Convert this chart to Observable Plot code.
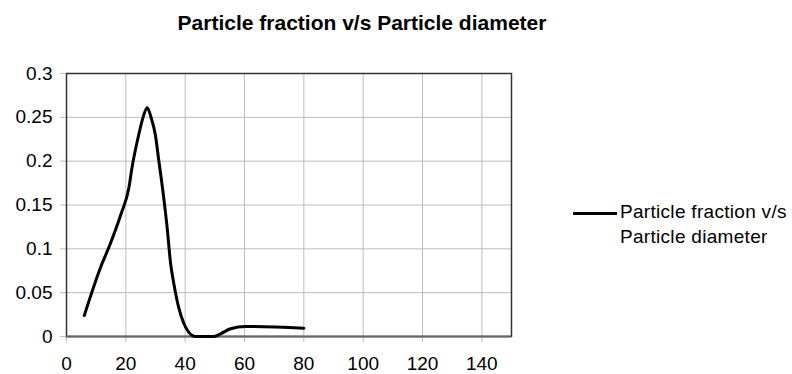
<!DOCTYPE html>
<html>
<head>
<meta charset="utf-8">
<script src="https://cdn.jsdelivr.net/npm/d3@7"></script>
<script src="https://cdn.jsdelivr.net/npm/@observablehq/plot@0.6"></script>
<style>
  html, body { margin: 0; padding: 0; background: #fff; }
  #wrap { position: relative; width: 792px; height: 374px; font-family: "Liberation Sans", Arial, sans-serif; }
  #title { position: absolute; left: 0; width: 724px; top: 11.5px; text-align: center; font-size: 21px; font-weight: bold; line-height: 1; color: #000; }
  #legend { position: absolute; left: 573px; top: 199px; }
  #legend .swatch { position: absolute; left: 0; top: 12.8px; width: 44px; height: 3px; background: #000; }
  #legend .label { position: absolute; left: 47px; top: 0; font-size: 19px; letter-spacing: 0.3px; line-height: 25px; white-space: nowrap; color: #000; }
</style>
</head>
<body>
<div id="wrap">
  <div id="chart"></div>
  <div id="title"></div>
  <div id="legend"><div class="swatch"></div><div class="label"></div></div>
</div>
<script>
const chartTitle = "Particle fraction v/s Particle diameter";
const seriesName = ["Particle fraction v/s", "Particle diameter"];
const diameter = [6, 11.5, 14.8, 18.4, 21, 22.1, 24.4, 25.8, 27.2, 28.5, 30, 31.1, 32.6, 33.9, 35.1, 36.2, 37.9, 39.6, 41.2, 43.5, 49.7, 51.9, 55.3, 60.3, 80];
const fraction = [0.024, 0.079, 0.106, 0.14, 0.169, 0.193, 0.231, 0.25, 0.261, 0.25, 0.229, 0.201, 0.163, 0.125, 0.083, 0.06, 0.032, 0.0145, 0.005, 0, 0, 0.003, 0.0088, 0.0114, 0.0095];
const xTicks = [0, 20, 40, 60, 80, 100, 120, 140];
const yTicks = [0, 0.05, 0.1, 0.15, 0.2, 0.25, 0.3];

const data = diameter.map((d, i) => ({d, f: fraction[i]}));

const chart = Plot.plot({
  width: 792,
  height: 374,
  marginLeft: 66,
  marginRight: 281,
  marginTop: 73,
  marginBottom: 38,
  style: {background: "#fff", color: "#000", fontFamily: "'Liberation Sans', Arial, sans-serif"},
  x: {domain: [0, 150]},
  y: {domain: [0, 0.3]},
  marks: [
    Plot.gridX(xTicks, {stroke: "#bdbdbd", strokeOpacity: 1, strokeWidth: 1}),
    Plot.gridY(yTicks, {stroke: "#bdbdbd", strokeOpacity: 1, strokeWidth: 1}),
    Plot.axisX(xTicks, {tickSize: 6, tickPadding: 14, stroke: "#bdbdbd", fill: "#000", label: null, tickFormat: d => String(d)}),
    Plot.axisY(yTicks, {tickSize: 6, tickPadding: 8, stroke: "#bdbdbd", fill: "#000", label: null, tickFormat: d => String(d)}),
    Plot.frame({stroke: "#333", strokeWidth: 1.5}),
    Plot.ruleY([0], {stroke: "#666", strokeWidth: 2}),
    Plot.line(data, {x: "d", y: "f", stroke: "#000", strokeWidth: 3, curve: "monotone-x"})
  ]
});
d3.select(chart).selectAll("text").each(function() {
  this.style.fontSize = "19px";
  this.style.fontFamily = "'Liberation Sans', Arial, sans-serif";
});
document.getElementById("chart").appendChild(chart);
document.getElementById("title").textContent = chartTitle;
document.querySelector("#legend .label").innerHTML = seriesName.join("<br>");
</script>
</body>
</html>
